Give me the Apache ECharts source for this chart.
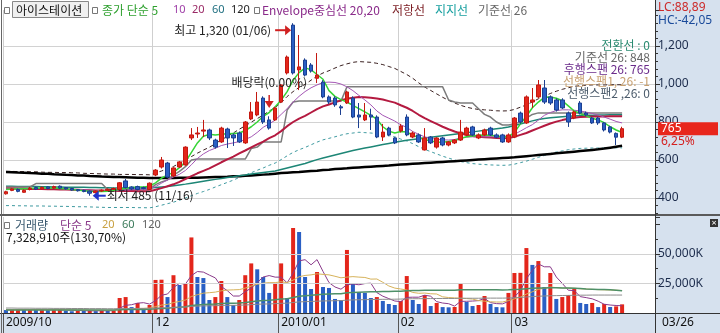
<!DOCTYPE html>
<html>
<head>
<meta charset="utf-8">
<script src="https://cdn.jsdelivr.net/npm/echarts@6.0.0/dist/echarts.min.js"></script>
<style>
  html, body { margin: 0; padding: 0; background: #fff; }
  #chart { width: 720px; height: 333px; }
</style>
</head>
<body>
<div id="chart"></div>
<script>
// trading days shown on the chart (2009/10/27 .. 2010/03/26)
const dates = [
  '2009/10/27', '2009/10/28', '2009/10/29', '2009/10/30',
  '2009/11/02', '2009/11/03', '2009/11/04', '2009/11/05', '2009/11/06', '2009/11/09', '2009/11/10',
  '2009/11/11', '2009/11/12', '2009/11/13', '2009/11/16', '2009/11/17', '2009/11/18', '2009/11/19',
  '2009/11/20', '2009/11/23', '2009/11/24', '2009/11/25', '2009/11/26', '2009/11/27', '2009/11/30',
  '2009/12/01', '2009/12/02', '2009/12/03', '2009/12/04', '2009/12/07', '2009/12/08', '2009/12/09',
  '2009/12/10', '2009/12/11', '2009/12/14', '2009/12/15', '2009/12/16', '2009/12/17', '2009/12/18',
  '2009/12/21', '2009/12/22', '2009/12/23', '2009/12/24', '2009/12/28', '2009/12/29', '2009/12/30',
  '2010/01/04', '2010/01/05', '2010/01/06', '2010/01/07', '2010/01/08', '2010/01/11', '2010/01/12',
  '2010/01/13', '2010/01/14', '2010/01/15', '2010/01/18', '2010/01/19', '2010/01/20', '2010/01/21',
  '2010/01/22', '2010/01/25', '2010/01/26', '2010/01/27', '2010/01/28', '2010/01/29',
  '2010/02/01', '2010/02/02', '2010/02/03', '2010/02/04', '2010/02/05', '2010/02/08', '2010/02/09',
  '2010/02/10', '2010/02/11', '2010/02/12', '2010/02/16', '2010/02/17', '2010/02/18', '2010/02/19',
  '2010/02/22', '2010/02/23', '2010/02/24', '2010/02/25', '2010/02/26',
  '2010/03/02', '2010/03/03', '2010/03/04', '2010/03/05', '2010/03/08', '2010/03/09', '2010/03/10',
  '2010/03/11', '2010/03/12', '2010/03/15', '2010/03/16', '2010/03/17', '2010/03/18', '2010/03/19',
  '2010/03/22', '2010/03/23', '2010/03/24', '2010/03/25', '2010/03/26'
];

// x axis month labels, keyed by the first trading day of the month
const monthTicks = { 0: '2009/10', 25: '12', 46: '2010/01', 66: '02', 85: '03' };
const lastDateLabel = '03/26';
const emptySlots = ['p1', 'p2', 'p3', 'p4', 'p5'];

// [open, close, low, high]
const candles = [
  [422, 433, 418, 438], [440, 448, 436, 452], [445, 435, 430, 450], [430, 440, 428, 445],
  [445, 452, 440, 458], [455, 447, 442, 460], [448, 456, 444, 460], [458, 450, 446, 462],
  [452, 460, 448, 465], [462, 452, 448, 466], [455, 448, 444, 458], [450, 442, 438, 453],
  [444, 438, 434, 447], [440, 434, 430, 443], [436, 425, 412, 440], [428, 437, 424, 440],
  [437, 441, 432, 445], [440, 446, 436, 450], [446, 450, 442, 455], [445, 480, 440, 484],
  [490, 455, 450, 500], [458, 448, 442, 462], [460, 445, 440, 465], [455, 450, 446, 460],
  [445, 478, 442, 482],
  [521, 547, 515, 552], [563, 600, 555, 616], [584, 510, 505, 590], [516, 558, 510, 562],
  [563, 590, 558, 595], [574, 668, 570, 672], [716, 732, 705, 768], [737, 742, 716, 774],
  [752, 758, 721, 811], [758, 716, 705, 765], [705, 668, 660, 712], [695, 768, 690, 775],
  [763, 716, 663, 770], [732, 716, 674, 740], [742, 695, 690, 750], [690, 800, 685, 805],
  [816, 853, 810, 905], [837, 905, 830, 958], [926, 800, 790, 935], [811, 768, 760, 830],
  [811, 874, 805, 880],
  [905, 995, 900, 1000], [1058, 1142, 1050, 1150], [1310, 1058, 1050, 1320], [1074, 1090, 968, 1258],
  [1126, 1047, 1040, 1135], [1100, 1068, 1060, 1110], [1030, 1047, 1005, 1163], [1010, 932, 925, 1020],
  [932, 905, 895, 940], [926, 890, 880, 935], [880, 874, 837, 890], [900, 958, 895, 965],
  [926, 826, 820, 935], [837, 826, 768, 900], [811, 837, 805, 900], [837, 826, 758, 870],
  [826, 721, 715, 835], [721, 747, 700, 790], [768, 732, 725, 775], [716, 690, 684, 720],
  [753, 779, 745, 790], [826, 732, 725, 840], [721, 742, 715, 750], [732, 695, 690, 740],
  [653, 716, 650, 768], [721, 690, 684, 726], [668, 716, 660, 720], [716, 679, 672, 722],
  [679, 695, 672, 700], [690, 705, 684, 710], [705, 747, 700, 811], [732, 768, 726, 775],
  [774, 732, 726, 780], [716, 732, 710, 740], [732, 758, 726, 765], [768, 732, 726, 775],
  [732, 720, 715, 740], [732, 695, 690, 738], [695, 732, 690, 740],
  [721, 821, 715, 826], [847, 800, 790, 855], [795, 932, 790, 940], [905, 916, 874, 979],
  [932, 995, 925, 1021], [979, 905, 895, 1021], [932, 900, 890, 940], [916, 863, 855, 925],
  [916, 874, 868, 925], [847, 800, 774, 855], [821, 853, 815, 860], [900, 847, 840, 910],
  [847, 837, 830, 855], [821, 795, 790, 826], [821, 795, 785, 826], [795, 758, 750, 800],
  [774, 747, 740, 780], [740, 720, 679, 745], [720, 765, 715, 775]
];

const ma5 = [
  445, 447, 448, 449, 450, 451, 452, 453, 452, 450, 448, 445, 442, 438, 435, 434, 434, 436, 440, 446, 452, 455, 458, 458, 462,
  480, 505, 520, 535, 560, 590, 640, 690, 725, 735, 732, 735, 738, 740, 742, 755, 775, 800, 830, 850, 880,
  915, 960, 1020, 1060, 1085, 1075, 1050, 1025, 965, 935, 918, 905, 888, 870, 853, 835, 815, 775, 752, 742,
  750, 748, 730, 718, 708, 700, 695, 694, 697, 703, 713, 722, 726, 730, 732, 730, 726, 722, 722,
  745, 790, 830, 875, 905, 930, 932, 925, 912, 885, 858, 845, 832, 820, 811, 797, 775, 758, 745
];
const ma10 = [
  448, 449, 450, 450, 451, 451, 451, 450, 450, 449, 448, 447, 445, 443, 441, 440, 439, 438, 438, 439, 441, 443, 445, 447, 449,
  460, 478, 495, 510, 525, 545, 575, 608, 632, 650, 662, 676, 684, 690, 697, 708, 722, 745, 772, 790, 810,
  840, 870, 905, 935, 960, 980, 995, 1008, 1010, 1008, 1000, 985, 965, 940, 916, 890, 858, 835, 820, 805,
  785, 772, 750, 735, 722, 714, 709, 706, 705, 708, 716, 720, 722, 722, 722, 722, 722, 724, 728,
  735, 752, 770, 786, 810, 835, 850, 860, 864, 864, 862, 858, 852, 845, 837, 826, 815, 803, 795
];
const ma20 = [
  450, 450, 449, 449, 448, 448, 447, 446, 446, 445, 445, 444, 443, 442, 441, 440, 439, 438, 438, 437, 437, 437, 436, 436, 435,
  443, 452, 462, 472, 485, 500, 515, 530, 543, 556, 572, 588, 603, 618, 635, 650, 666, 682, 697, 715, 730,
  752, 778, 800, 818, 832, 850, 868, 882, 892, 903, 914, 922, 928, 932, 930, 928, 924, 918, 910, 902,
  888, 875, 858, 838, 820, 805, 790, 775, 762, 750, 740, 732, 726, 722, 720, 718, 716, 715, 716,
  722, 732, 742, 755, 768, 780, 792, 802, 810, 817, 823, 826, 828, 829, 829, 829, 830, 830, 830
];
const ma60 = [
  462, 462, 461, 461, 460, 460, 459, 459, 458, 458, 457, 457, 456, 456, 455, 455, 454, 454, 453, 453, 452, 452, 452, 452, 453,
  455, 458, 461, 465, 469, 473, 478, 483, 488, 493, 498, 503, 508, 512, 517, 521, 526, 530, 534, 538, 542,
  550, 558, 566, 574, 582, 592, 602, 610, 618, 626, 634, 642, 650, 657, 663, 669, 675, 681, 687, 693,
  699, 704, 708, 712, 716, 720, 724, 728, 732, 736, 740, 744, 748, 752, 756, 760, 764, 768, 774,
  782, 790, 798, 806, 813, 818, 822, 825, 828, 830, 832, 834, 835, 836, 837, 837, 838, 838, 838
];
const ma120 = [
  537, 536, 534, 533, 531, 530, 528, 527, 525, 524, 522, 521, 519, 518, 516, 515, 513, 512, 511, 510, 509, 508, 507, 506, 505,
  505, 505, 505, 505, 506, 506, 507, 507, 508, 509, 510, 511, 512, 514, 515, 517, 519, 521, 523, 525, 528,
  531, 533, 535, 537, 540, 542, 544, 547, 549, 552, 554, 556, 559, 561, 563, 565, 567, 569, 571, 574,
  576, 578, 580, 582, 584, 586, 588, 590, 592, 594, 596, 598, 600, 602, 604, 606, 608, 610, 612,
  614, 617, 620, 623, 626, 629, 632, 635, 638, 641, 644, 647, 650, 653, 656, 660, 665, 670, 675
];
// envelope 20,20 resistance / support
const envUpper = [
  540, 540, 539, 539, 538, 538, 536, 535, 535, 534, 534, 533, 532, 530, 529, 528, 527, 526, 526, 524, 524, 524, 523, 523, 522,
  532, 542, 554, 566, 582, 600, 618, 636, 652, 667, 686, 706, 724, 742, 762, 780, 799, 818, 836, 858, 876,
  902, 934, 960, 982, 998, 1020, 1042, 1058, 1070, 1084, 1097, 1106, 1114, 1118, 1116, 1114, 1109, 1102, 1092, 1082,
  1066, 1050, 1030, 1006, 984, 966, 948, 930, 914, 900, 888, 878, 871, 866, 864, 862, 859, 858, 859,
  866, 878, 890, 906, 922, 936, 950, 962, 972, 980, 988, 991, 994, 995, 995, 995, 996, 996, 996
];
const envLower = [
  360, 360, 359, 359, 358, 358, 358, 357, 357, 356, 356, 355, 354, 354, 353, 352, 351, 350, 350, 350, 350, 350, 349, 349, 348,
  354, 362, 370, 378, 388, 400, 412, 424, 434, 445, 458, 470, 482, 494, 508, 520, 533, 546, 558, 572, 584,
  602, 622, 640, 654, 666, 680, 694, 706, 714, 722, 731, 738, 742, 746, 744, 742, 739, 734, 728, 722,
  710, 700, 686, 670, 656, 644, 632, 620, 610, 600, 592, 586, 581, 578, 576, 574, 573, 572, 573,
  578, 586, 594, 604, 614, 624, 634, 642, 648, 654, 658, 661, 662, 663, 663, 663, 664, 664, 664
];
// ichimoku base line (기준선 26)
const baseLine = [
  458, 458, 458, 458, 458, 476, 476, 476, 476, 476, 476, 476, 476, 476, 476, 476, 476, 445, 445, 445, 445, 445, 445, 445, 445,
  470, 485, 495, 520, 540, 565, 600, 605, 605, 605, 605, 605, 605, 605, 605, 605, 660, 668, 695, 695, 695,
  695, 863, 905, 910, 910, 910, 910, 910, 910, 910, 910, 985, 985, 985, 985, 985, 985, 985, 985, 985,
  985, 985, 985, 985, 985, 985, 985, 985, 916, 905, 900, 900, 900, 870, 840, 826, 800, 784, 784,
  790, 800, 820, 840, 848, 848, 848, 848, 848, 848, 848, 848, 848, 848, 848, 848, 848, 848, 848
];

// volume, thousands of shares
const volumes = [
  2500, 2900, 3200, 2600, 3300, 2700, 3100, 2400, 2800, 3200, 1900, 1500, 2100, 1700, 2300, 1600, 2300, 1800, 2100,
  12700, 13500, 5000, 8500, 4000, 6800,
  28000, 28200, 13500, 32000, 23700, 25400, 64000, 30500, 29600, 11000, 13500, 27100, 13500, 6800, 11000, 32000, 42000,
  37000, 30500, 17000, 25400,
  42000, 12700, 72000, 68600, 30500, 20300, 34700, 22000, 21200, 11900, 11000, 53400, 25400, 17800, 17000, 12700, 13500,
  10200, 7600, 6800,
  10200, 31300, 11000, 7600, 15200, 5900, 8500, 5000, 4800, 5100, 25400, 9300, 5900, 6800, 14400, 7600, 5000, 4800, 17000,
  33900, 34000, 55000, 40700, 44000, 22000, 33900, 11900, 13500, 15200, 20300, 8500, 7600, 8500, 5000, 7600, 5100, 5607, 7329
];
const volMa5 = [
  2700, 2700, 2800, 2800, 2900, 2900, 2800, 2800, 2800, 2800, 2600, 2300, 2200, 2000, 1800, 1900, 1900, 1900, 2000,
  4100, 6480, 7020, 8360, 8740, 7560,
  10460, 15060, 16060, 21660, 25040, 24520, 31720, 35120, 34640, 32100, 29720, 22340, 18940, 14380, 14380, 18080, 21060,
  25760, 30500, 31700, 30380,
  30380, 25520, 33820, 44140, 45160, 40820, 45220, 35220, 25740, 22020, 20160, 23900, 24580, 23900, 24920, 25260, 17280,
  14240, 12200, 10160,
  9660, 13220, 13380, 13380, 15060, 14200, 9640, 8440, 7880, 5860, 9860, 9920, 10120, 10480, 12360, 8800, 7940, 7720, 9760,
  13660, 18940, 28980, 36120, 41520, 39140, 39120, 30500, 25060, 19300, 18960, 13880, 13020, 12020, 9980, 7440, 6760, 6360, 6130
];
const volMa20 = [
  2800, 2800, 2800, 2800, 2800, 2800, 2800, 2800, 2800, 2800, 2750, 2700, 2650, 2600, 2550, 2500, 2450, 2400, 2400,
  2900, 3400, 3500, 3800, 3900, 4100,
  5400, 6700, 7300, 8800, 9800, 11000, 14000, 15500, 16800, 17200, 17700, 18800, 19400, 19600, 19800, 21100, 22800,
  24300, 25300, 25700, 25700,
  26500, 25700, 27900, 30700, 31800, 32300, 33200, 32700, 32300, 31100, 29800, 30400, 30800, 30400, 30100, 28700, 28800,
  26000, 22900, 21100,
  20300, 19500, 17400, 16700, 16900, 16300, 16100, 13700, 13100, 12800, 12500, 12200, 11800, 10500, 10000, 9500, 9300, 9300, 10500,
  12000, 13500, 16000, 18000, 20000, 21000, 22000, 21500, 21200, 21000, 21000, 20500, 20300, 20000, 19800, 19600, 19500, 19300, 19000
];
const volMa60 = [
  2600, 2600, 2600, 2600, 2600, 2600, 2600, 2600, 2600, 2600, 2600, 2600, 2600, 2600, 2600, 2600, 2600, 2600, 2600,
  2700, 2900, 2900, 3000, 3000, 3100,
  3500, 3900, 4100, 4600, 4900, 5300, 6300, 6800, 7200, 7400, 7600, 8000, 8200, 8300, 8400, 8900, 9500,
  10100, 10600, 10800, 11200,
  11800, 12000, 13100, 14200, 14700, 15000, 15500, 15800, 16100, 16200, 16300, 17100, 17400, 17600, 17800, 18000, 18100,
  18200, 18300, 18400,
  18500, 18900, 19000, 19100, 19200, 19200, 19300, 19300, 19300, 19300, 19600, 19600, 19600, 19600, 19700, 19700, 19600, 19500, 19600,
  19900, 20100, 20600, 20900, 21200, 21200, 21400, 21300, 21200, 21100, 21000, 20700, 20400, 20200, 20000, 19800, 19600, 19300, 18900
];
const volMa120 = [
  4200, 4200, 4100, 4100, 4100, 4000, 4000, 4000, 3900, 3900, 3900, 3800, 3800, 3800, 3700, 3700, 3700, 3600, 3600,
  3700, 3800, 3800, 3900, 3900, 4000,
  4200, 4400, 4500, 4700, 4900, 5100, 5600, 5800, 6000, 6100, 6200, 6400, 6500, 6500, 6600, 6800, 7100,
  7400, 7600, 7700, 7900,
  8200, 8300, 8900, 9400, 9600, 9800, 10000, 10200, 10300, 10400, 10500, 10900, 11100, 11200, 11300, 11400, 11500,
  11600, 11600, 11700,
  11800, 12000, 12100, 12100, 12200, 12200, 12300, 12300, 12300, 12300, 12500, 12500, 12500, 12500, 12600, 12600, 12600, 12600, 12700,
  12900, 13200, 13600, 13900, 14200, 14400, 14600, 14700, 14800, 14900, 15000, 15100, 15100, 15200, 15200, 15200, 15200, 15200, 15200
];

const upRed = '#e3261b';
const downBlue = '#2a5fc4';
const krFont = '"Noto Sans CJK KR", "Noto Sans", sans-serif';
const numFont = '11px "Noto Sans"';

const categories = dates.concat(emptySlots);
const boundaries = Object.keys(monthTicks).map(Number);
const isBoundary = (i) => boundaries.indexOf(i) >= 0;

const chart = echarts.init(document.getElementById('chart'));

function priceLine(name, data, color, width, type) {
  return {
    name, type: 'line', data,
    xAxisIndex: 0, yAxisIndex: 0,
    showSymbol: false, symbol: 'none', silent: true, z: 2,
    lineStyle: { color, width, type: type || 'solid' },
  };
}

function volumeLine(name, data, color, width) {
  return {
    name, type: 'line', data,
    xAxisIndex: 1, yAxisIndex: 1,
    showSymbol: false, symbol: 'none', silent: true, z: 4,
    lineStyle: { color, width },
  };
}

const option = {
  animation: false,
  grid: [
    { left: 3, right: 65, top: 10, height: 205 },
    { left: 3, right: 65, top: 217, height: 96 },
  ],
  xAxis: [
    {
      type: 'category', gridIndex: 0, data: categories, boundaryGap: true,
      axisLine: { show: false }, axisTick: { show: false }, axisLabel: { show: false },
      splitLine: { show: true, interval: isBoundary, lineStyle: { color: '#cfcfcf' } },
    },
    {
      type: 'category', gridIndex: 1, data: categories, boundaryGap: true,
      axisLine: { show: true, lineStyle: { color: '#333' } },
      axisTick: { show: true, interval: isBoundary, length: 20, lineStyle: { color: '#555' } },
      axisLabel: {
        interval: (i) => isBoundary(i),
        formatter: (v, i) => monthTicks[i] || '',
        align: 'left', margin: 4, color: '#111', fontSize: 12, fontFamily: 'Noto Sans',
      },
      splitLine: { show: true, interval: isBoundary, lineStyle: { color: '#cfcfcf' } },
    },
  ],
  yAxis: [
    {
      type: 'value', gridIndex: 0, position: 'right', scale: true,
      min: 310.5, max: 1389.5, minInterval: 200, maxInterval: 200, splitNumber: 5,
      axisLine: { show: true, lineStyle: { color: '#333' } },
      axisTick: { show: true, length: 5, lineStyle: { color: '#333' } },
      minorTick: { show: true, splitNumber: 5, length: 3, lineStyle: { color: '#333' } },
      axisLabel: {
        color: '#1c2c4c', fontSize: 12, fontFamily: 'Noto Sans', margin: 3,
        showMinLabel: false, showMaxLabel: false,
        formatter: (v) => v.toLocaleString('en-US'),
      },
      splitLine: { show: true, showMinLine: false, showMaxLine: false, lineStyle: { color: '#d2d2d2' } },
    },
    {
      type: 'value', gridIndex: 1, position: 'right',
      min: 0, max: 81300, minInterval: 25000, maxInterval: 25000,
      axisLine: { show: true, lineStyle: { color: '#333' } },
      axisTick: { show: true, length: 5, lineStyle: { color: '#333' } },
      minorTick: { show: true, splitNumber: 2, length: 3, lineStyle: { color: '#333' } },
      axisLabel: {
        color: '#1c2c4c', fontSize: 12, fontFamily: 'Noto Sans', margin: 3,
        formatter: (v) => (v === 25000 || v === 50000 ? v.toLocaleString('en-US') + 'K' : ''),
      },
      splitLine: { show: false },
    },
  ],
  series: [
    priceLine('저항선', envUpper, '#3a2020', 1, [4, 3]),
    priceLine('지지선', envLower, '#3f9aa0', 1, [3, 3]),
    priceLine('120', ma120, '#000000', 2.5),
    priceLine('60', ma60, '#1d8676', 1.5),
    priceLine('기준선', baseLine, '#7c7c7c', 1.5),
    priceLine('20', ma20, '#b41a40', 2),
    priceLine('10', ma10, '#a456b4', 1),
    priceLine('5', ma5, '#36d436', 1.5),
    {
      name: '아이스테이션', type: 'candlestick', data: candles,
      xAxisIndex: 0, yAxisIndex: 0, barWidth: 4, z: 3, silent: true,
      itemStyle: {
        color: upRed, color0: downBlue,
        borderColor: '#c41810', borderColor0: '#1c3f90', borderWidth: 1,
      },
    },
    {
      name: '거래량', type: 'bar', xAxisIndex: 1, yAxisIndex: 1, barWidth: 4, z: 3, silent: true,
      data: volumes.map((v, i) => ({
        value: v,
        itemStyle: { color: i === 0 || v < volumes[i - 1] ? downBlue : upRed },
      })),
      markLine: {
        silent: true, symbol: ['none', 'none'], label: { show: false },
        lineStyle: { color: '#d2d2d2', type: 'solid', width: 1 },
        data: [{ yAxis: 25000 }, { yAxis: 50000 }],
      },
    },
    volumeLine('v5', volMa5, '#8a3a8a', 1),
    volumeLine('v20', volMa20, '#d6b25a', 1),
    volumeLine('v60', volMa60, '#4e9068', 1.5),
    volumeLine('v120', volMa120, '#8c8c8c', 1),
  ],
};

chart.setOption(option);

// overlay texts and panel decorations
const px = (i, v) => chart.convertToPixel({ gridIndex: 0 }, [i, v]);
const hiPt = px(48, 1320);
const divPt = px(44, 874);
const loPt = px(14, 412);
const lastPt = px(103, 765);

function txt(x, y, text, fill, extra) {
  return {
    type: 'text', x, y, z: 100,
    style: Object.assign({ text, fill, font: '12px ' + krFont, verticalAlign: 'middle' }, extra || {}),
  };
}
function hline(y, x1, x2, stroke, w) {
  return { type: 'line', z: 90, shape: { x1, y1: y, x2, y2: y }, style: { stroke, lineWidth: w } };
}
function vline(x, y1, y2, stroke, w) {
  return { type: 'line', z: 90, shape: { x1: x, y1, x2: x, y2 }, style: { stroke, lineWidth: w } };
}
function square(x, y) {
  return { type: 'rect', z: 100, shape: { x, y, width: 5, height: 6 }, style: { fill: '#fff', stroke: '#777', lineWidth: 1 } };
}

const elements = [
  // panels
  { type: 'rect', z: -10, shape: { x: 655, y: 0, width: 65, height: 333 }, style: { fill: '#d6e1ee' } },
  { type: 'rect', z: -10, shape: { x: 0, y: 313, width: 720, height: 20 }, style: { fill: '#d6e1ee' } },
  hline(215, 0, 720, '#5a5a5a', 2),
  hline(313.5, 0, 720, '#333', 1),
  vline(655.5, 0, 333, '#333', 1),
  vline(1.5, 0, 333, '#666', 1),

  // price legend row
  square(4.5, 7.5),
  { type: 'rect', z: 99, shape: { x: 12.5, y: 1.5, width: 76, height: 16 }, style: { fill: '#f0f0f0', stroke: '#888', lineWidth: 1 } },
  txt(16, 10, '아이스테이션', '#111'),
  square(92.5, 7.5),
  txt(102, 10, '종가 단순 5', '#2ea02e'),
  txt(173, 10, '10', '#a040a8', { font: numFont }),
  txt(192, 10, '20', '#9a2a66', { font: numFont }),
  txt(212, 10, '60', '#1f6f80', { font: numFont }),
  txt(231, 10, '120', '#222', { font: numFont }),
  square(254.5, 7.5),
  txt(262, 10, 'Envelope중심선 20,20', '#8a2a8a'),
  txt(392, 10, '저항선', '#7a1a20'),
  txt(435, 10, '지지선', '#18a0a0'),
  txt(478, 10, '기준선 26', '#666'),

  // right panel top
  txt(658, 8, 'LC:88,89', '#cc2a2a', { font: '12px "Noto Sans"' }),
  txt(658, 21, 'HC:-42,05', '#1a4a9a', { font: '12px "Noto Sans"' }),

  // ichimoku values
  txt(650, 45, '전환선 : 0', '#2a8a70', { align: 'right' }),
  txt(650, 57, '기준선 26: 848', '#666', { align: 'right' }),
  txt(650, 69, '후행스팬 26: 765', '#6a2a8a', { align: 'right' }),
  txt(650, 81, '선행스팬1, 26: -1', '#c8a070', { align: 'right' }),
  txt(650, 93, '선행스팬2 ,26: 0', '#4a5a6a', { align: 'right' }),

  // high marker
  txt(hiPt[0] - 22, hiPt[1] + 7, '최고 1,320 (01/06)', '#222', { align: 'right' }),
  hline(hiPt[1] + 7, hiPt[0] - 18, hiPt[0] - 7, '#d02020', 2),
  { type: 'polygon', z: 100, shape: { points: [[hiPt[0] - 8, hiPt[1] + 2], [hiPt[0] - 2, hiPt[1] + 7], [hiPt[0] - 8, hiPt[1] + 12]] }, style: { fill: '#d02020' } },

  // ex-dividend marker
  txt(divPt[0], 82, '배당락(0.00%)', '#222', { align: 'center' }),
  vline(divPt[0], divPt[1] - 13, divPt[1] - 5, '#d02020', 1.5),
  { type: 'polygon', z: 100, shape: { points: [[divPt[0] - 4.5, divPt[1] - 7], [divPt[0] + 4.5, divPt[1] - 7], [divPt[0], divPt[1]]] }, style: { fill: '#d02020' } },

  // low marker
  { type: 'polygon', z: 100, shape: { points: [[loPt[0] + 3, loPt[1]], [loPt[0] + 9, loPt[1] - 5], [loPt[0] + 9, loPt[1] + 5]] }, style: { fill: '#2233cc' } },
  hline(loPt[1], loPt[0] + 8, loPt[0] + 16, '#2233cc', 2),
  txt(loPt[0] + 17, loPt[1], '최저 485 (11/16)', '#222'),

  // last price box
  { type: 'rect', z: 100, shape: { x: 658, y: lastPt[1] - 6.5, width: 60, height: 13 }, style: { fill: '#e8261c' } },
  txt(661, lastPt[1], '765', '#fff', { font: '12px "Noto Sans"' }),
  txt(661, lastPt[1] + 13, '6,25%', '#d42020', { font: '12px "Noto Sans"' }),

  // volume legend
  square(4.5, 222.5),
  txt(15, 225, '거래량', '#3a5a70'),
  txt(60, 225, '단순 5', '#8a3a8a'),
  txt(102, 225, '20', '#c8a040', { font: numFont }),
  txt(122, 225, '60', '#3a7a5a', { font: numFont }),
  txt(142, 225, '120', '#606060', { font: numFont }),
  txt(6, 237, '7,328,910주(130,70%)', '#111'),
  { type: 'rect', z: 100, shape: { x: 710, y: 219, width: 8, height: 8 }, style: { fill: '#333' } },
  txt(714, 223, '×', '#fff', { align: 'center', font: '9px "Noto Sans"' }),

  // last date on the time axis
  txt(662, 323, lastDateLabel, '#111', { font: '12px "Noto Sans"' }),
];

chart.setOption({ graphic: { elements } });
</script>
</body>
</html>
